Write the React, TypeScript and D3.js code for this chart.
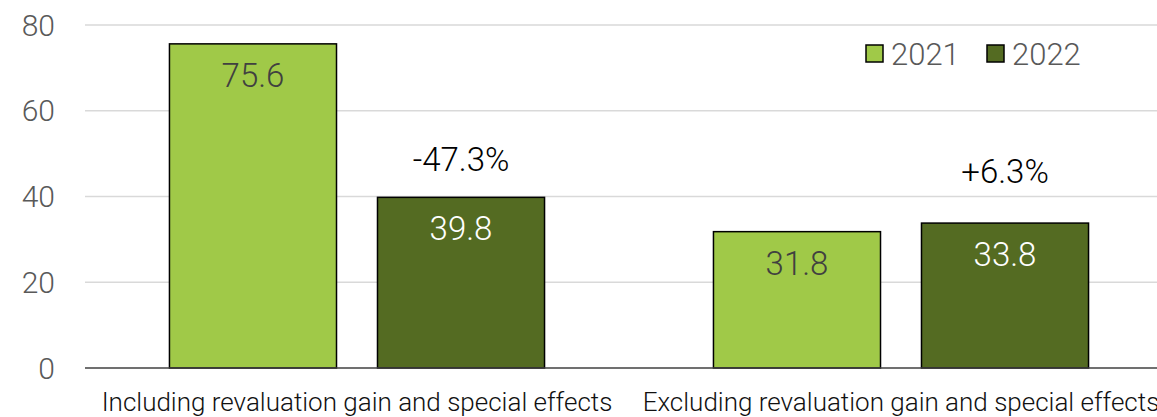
import React from "react";
import * as d3 from "d3";

// Profit before taxes, in EUR million
const categories = [
  "Including revaluation gain and special effects",
  "Excluding revaluation gain and special effects",
];
const seriesNames = ["2021", "2022"];
const values2021 = [75.6, 31.8];
const values2022 = [39.8, 33.8];
const changeLabels = ["-47.3%", "+6.3%"];
const yTicks = [0, 20, 40, 60, 80];

const WIDTH = 1157;
const HEIGHT = 417;
const margin = { top: 25, right: -16, bottom: 49, left: 85 };

const colors = ["#A0C948", "#546B22"];
const labelColors = ["#404040", "#FFFFFF"];
const FONT = "Roboto, 'Liberation Sans', Arial, sans-serif";

export default function App() {
  const innerW = WIDTH - margin.left - margin.right;
  const innerH = HEIGHT - margin.top - margin.bottom;

  const x0 = d3
    .scaleBand<string>()
    .domain(categories)
    .range([margin.left, margin.left + innerW])
    .paddingInner(0)
    .paddingOuter(0);

  const x1 = d3
    .scaleBand<string>()
    .domain(seriesNames)
    .range([0, x0.bandwidth()])
    .paddingInner(0.197)
    .paddingOuter(0.406);

  const y = d3
    .scaleLinear()
    .domain([0, 80])
    .range([margin.top + innerH, margin.top]);

  const seriesValues = [values2021, values2022];
  // Change labels sit above the 2022 bars, with per-group lift in px
  const changeLift = [26, 40];

  return (
    <svg
      width={WIDTH}
      height={HEIGHT}
      style={{ position: "absolute", left: 0, top: 0, background: "#fff" }}
      fontFamily={FONT}
    >
      {/* gridlines */}
      {yTicks
        .filter((t) => t !== 0)
        .map((t) => (
          <line
            key={"g" + t}
            x1={margin.left}
            x2={WIDTH}
            y1={y(t)}
            y2={y(t)}
            stroke="#D9D9D9"
            strokeWidth={1.5}
          />
        ))}
      {/* y tick labels */}
      {yTicks.map((t) => (
        <text
          key={"t" + t}
          x={55}
          y={y(t)}
          textAnchor="end"
          dominantBaseline="central"
          fontSize={30}
          fontWeight={300}
          fill="#595959"
        >
          {t}
        </text>
      ))}

      {/* bars */}
      {categories.map((cat, ci) => (
        <g key={cat} transform={`translate(${x0(cat)},0)`}>
          {seriesNames.map((s, si) => {
            const v = seriesValues[si][ci];
            const bx = x1(s)!;
            return (
              <g key={s}>
                <rect
                  x={bx}
                  y={y(v)}
                  width={x1.bandwidth()}
                  height={y(0) - y(v)}
                  fill={colors[si]}
                  stroke="#000"
                  strokeWidth={1.5}
                />
                <text
                  x={bx + x1.bandwidth() / 2}
                  y={y(v) + 43}
                  textAnchor="middle"
                  fontSize={33}
                  fontWeight={300}
                  fill={labelColors[si]}
                >
                  {v.toFixed(1)}
                </text>
              </g>
            );
          })}
          <text
            x={x1("2022")! + x1.bandwidth() / 2}
            y={y(values2022[ci]) - changeLift[ci]}
            textAnchor="middle"
            fontSize={33}
            fontWeight={300}
            fill="#000"
          >
            {changeLabels[ci]}
          </text>
          <text
            x={x0.bandwidth() / 2}
            y={411}
            textAnchor="middle"
            fontSize={26}
            fontWeight={300}
            fill="#111"
          >
            {cat}
          </text>
        </g>
      ))}

      {/* baseline */}
      <line
        x1={margin.left}
        x2={WIDTH}
        y1={y(0)}
        y2={y(0)}
        stroke="#404040"
        strokeWidth={1.5}
      />

      {/* legend */}
      {seriesNames.map((s, i) => {
        const lx = i === 0 ? 866 : 987;
        return (
          <g key={"l" + s}>
            <rect
              x={lx}
              y={45}
              width={17}
              height={17}
              fill={colors[i]}
              stroke="#000"
              strokeWidth={1.5}
            />
            <text
              x={lx + 25}
              y={65}
              fontSize={31}
              fontWeight={300}
              fill="#595959"
            >
              {s}
            </text>
          </g>
        );
      })}
    </svg>
  );
}
